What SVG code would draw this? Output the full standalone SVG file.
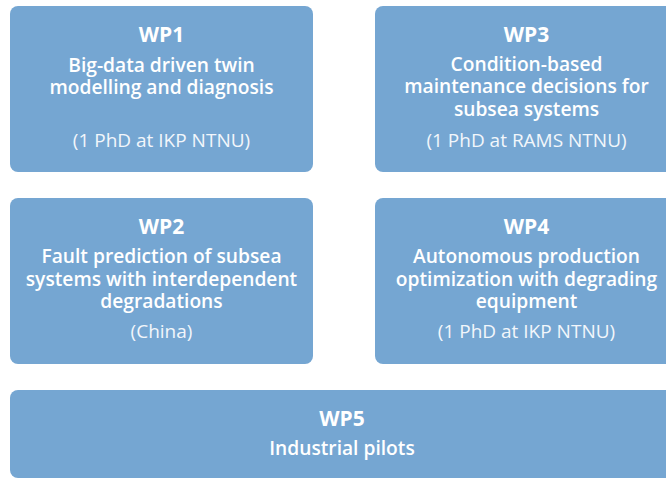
<svg xmlns="http://www.w3.org/2000/svg" width="666" height="479" viewBox="0 0 666 479">
<style>
.box{fill:#75a6d2}
text{font-family:"Open Sans","Noto Sans","Liberation Sans",sans-serif;text-anchor:middle;fill:#ffffff}
.t{font-size:21px;font-weight:700}
.d{font-size:19.2px;font-weight:600}
.p{font-size:19px;font-weight:400;fill:#f2f6fb}
</style>
<rect width="666" height="479" fill="#ffffff"/>
<g id="connectors"/>
<g id="wp1">
<rect class="box" x="10" y="6" width="303" height="166" rx="8"/>
<text class="t" x="161.5" y="41.5">WP1</text>
<text class="d" x="161.5" y="71.5">Big-data driven twin</text>
<text class="d" x="161.5" y="94">modelling and diagnosis</text>
<text class="p" x="161.5" y="146.5">(1 PhD at IKP NTNU)</text>
</g>
<g id="wp3">
<rect class="box" x="375" y="6" width="303" height="166" rx="8"/>
<text class="t" x="526.5" y="41.5">WP3</text>
<text class="d" x="526.5" y="71">Condition-based</text>
<text class="d" x="526.5" y="93.3">maintenance decisions for</text>
<text class="d" x="526.5" y="115.5">subsea systems</text>
<text class="p" x="526.5" y="146.5">(1 PhD at RAMS NTNU)</text>
</g>
<g id="wp2">
<rect class="box" x="10" y="198" width="303" height="166" rx="8"/>
<text class="t" x="161.5" y="233.5">WP2</text>
<text class="d" x="161.5" y="263.3">Fault prediction of subsea</text>
<text class="d" x="161.5" y="285.6">systems with interdependent</text>
<text class="d" x="161.5" y="308">degradations</text>
<text class="p" x="161.5" y="338.3">(China)</text>
</g>
<g id="wp4">
<rect class="box" x="375" y="198" width="303" height="166" rx="8"/>
<text class="t" x="526.5" y="233.5">WP4</text>
<text class="d" x="526.5" y="263.3">Autonomous production</text>
<text class="d" x="526.5" y="285.6">optimization with degrading</text>
<text class="d" x="526.5" y="308">equipment</text>
<text class="p" x="526.5" y="338.3">(1 PhD at IKP NTNU)</text>
</g>
<g id="wp5">
<rect class="box" x="10" y="390" width="668" height="88" rx="8"/>
<text class="t" x="342" y="425.5">WP5</text>
<text class="d" x="342" y="455">Industrial pilots</text>
</g>
</svg>
